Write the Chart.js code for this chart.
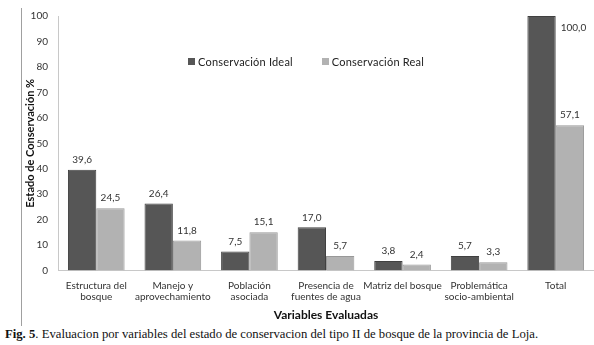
<!DOCTYPE html>
<html lang="es">
<head>
<meta charset="UTF-8">
<title>Estado de conservación</title>
<style>
    body { margin: 0; background: #fff; }
    .wrap { position: relative; width: 594px; height: 345px; overflow: hidden; }
    .frame { position: absolute; left: 21px; top: 8px; width: 0; height: 318px; border-left: 1px solid #a0a0a0; }
    .chart-box { position: absolute; left: 22px; top: 0; width: 572px; height: 325px; }
    .legend { position: absolute; left: 188px; top: 55px; display: flex; font-family: Lato, 'Open Sans', sans-serif; font-size: 11px; color: #222; letter-spacing: 0.2px; }
    .legend span.item { display: flex; align-items: center; margin-right: 29px; }
    .legend i { display: inline-block; width: 7px; height: 7px; margin-right: 3px; }
    .caption { position: absolute; left: 5px; top: 327px; font-family: 'Liberation Serif', 'DejaVu Serif', serif; font-size: 12.7px; color: #111; white-space: nowrap; }
</style>
<script src="https://cdn.jsdelivr.net/npm/chart.js"></script>
</head>
<body>
<div class="wrap">
    <div class="frame"></div>
    <div class="chart-box"><canvas id="chart" width="572" height="325"></canvas></div>
    <div class="legend" id="legend"></div>
    <div class="caption"><b>Fig. 5</b>. Evaluacion por variables del estado de conservacion del tipo II de bosque de la provincia de Loja.</div>
</div>
<script>
// datos
const categories = [
    ['Estructura del', 'bosque'],
    ['Manejo y', 'aprovechamiento'],
    ['Población', 'asociada'],
    ['Presencia de', 'fuentes de agua'],
    'Matriz del bosque',
    ['Problemática', 'socio-ambiental'],
    'Total'
];
const seriesNames = ['Conservación Ideal', 'Conservación Real'];
const ideal = [39.6, 26.4, 7.5, 17.0, 3.8, 5.7, 100.0];
const real = [24.5, 11.8, 15.1, 5.7, 2.4, 3.3, 57.1];
const yTicks = [0, 10, 20, 30, 40, 50, 60, 70, 80, 90, 100];

const colors = ['#565656', '#b2b2b2'];
const borders = ['#404040', '#989898'];
const font = "Lato, 'Open Sans', sans-serif";

// etiquetas de valores
const valueLabels = {
    id: 'valueLabels',
    afterDatasetsDraw(chart) {
        const ctx = chart.ctx;
        ctx.save();
        ctx.font = '10px ' + font;
        ctx.fillStyle = '#333';
        ctx.textBaseline = 'middle';
        chart.data.datasets.forEach((ds, i) => {
            chart.getDatasetMeta(i).data.forEach((bar, j) => {
                const txt = ds.data[j].toFixed(1).replace('.', ',');
                if (bar.y - 12 < chart.chartArea.top) {
                    ctx.textAlign = 'left';
                    ctx.fillText(txt, bar.x + bar.width / 2 + 5, bar.y + 12);
                } else {
                    ctx.textAlign = 'center';
                    ctx.fillText(txt, bar.x, bar.y - 10);
                }
            });
        });
        ctx.restore();
    }
};

new Chart(document.getElementById('chart'), {
    type: 'bar',
    data: {
        labels: categories,
        datasets: [
            { label: seriesNames[0], data: ideal, backgroundColor: colors[0], borderColor: borders[0], borderWidth: 1 },
            { label: seriesNames[1], data: real, backgroundColor: colors[1], borderColor: borders[1], borderWidth: 1 }
        ]
    },
    options: {
        responsive: false,
        animation: false,
        maintainAspectRatio: false,
        layout: { padding: { top: 16, right: 0, bottom: 0, left: 0 } },
        datasets: { bar: { categoryPercentage: 0.74, barPercentage: 1 } },
        plugins: { legend: { display: false }, tooltip: { enabled: false } },
        scales: {
            x: {
                grid: { display: false, drawTicks: false },
                border: { display: true, color: '#c8c8c8' },
                ticks: { color: '#333', font: { family: font, size: 10, lineHeight: 1.1 }, padding: 10, maxRotation: 0, autoSkip: false },
                title: { display: true, text: 'Variables Evaluadas', color: '#111', font: { family: font, size: 12, weight: 'bold' }, padding: { top: -5, bottom: 3 } }
            },
            y: {
                min: 0, max: 100,
                afterBuildTicks(s) { s.ticks = yTicks.map(v => ({ value: v })); },
                afterFit(s) { s.width = 36; },
                grid: { display: false, drawTicks: false },
                border: { display: true, color: '#c8c8c8' },
                ticks: { color: '#333', font: { family: font, size: 10 }, padding: 10 },
                title: { display: true, text: 'Estado de Conservación %', color: '#111', font: { family: font, size: 11, weight: 'bold' }, padding: { top: 2, bottom: 0 } }
            }
        }
    },
    plugins: [valueLabels]
});

// leyenda
const legend = document.getElementById('legend');
seriesNames.forEach((name, i) => {
    const item = document.createElement('span');
    item.className = 'item';
    item.innerHTML = '<i style="background:' + colors[i] + '"></i>' + name;
    legend.appendChild(item);
});
</script>
</body>
</html>
